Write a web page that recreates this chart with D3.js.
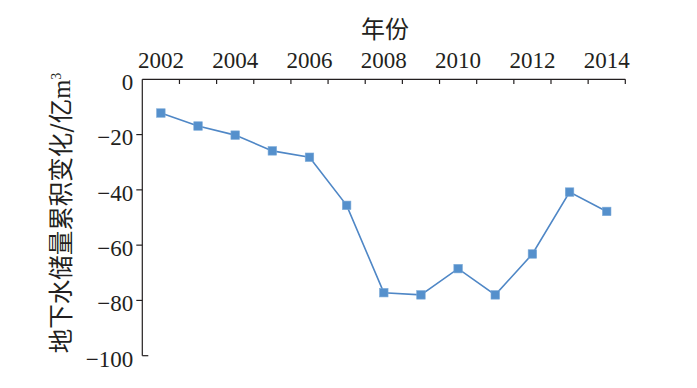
<!DOCTYPE html>
<html><head><meta charset="utf-8">
<script src="https://cdn.jsdelivr.net/npm/d3@7"></script>
<style>
body{margin:0;background:#fff;}
svg{display:block;}
.serif{font-family:"Liberation Serif","Times New Roman",serif;}
.cjk{font-family:"Noto Sans CJK SC","Noto Sans CJK JP",sans-serif;}
</style></head>
<body><svg id="c" width="697" height="388"></svg>
<script>
const years = [2002,2003,2004,2005,2006,2007,2008,2009,2010,2011,2012,2013,2014];
const values = [-12.2,-16.9,-20.2,-25.9,-28.2,-45.6,-77.2,-78.0,-68.5,-78.0,-63.2,-40.8,-47.8];
const xTickLabels = [2002,2004,2006,2008,2010,2012,2014];
const yTicks = [0,-20,-40,-60,-80,-100];
const xTitle = "年份";
const yTitle = "地下水储量累积变化/亿";

(function(){
const svg = d3.select("#c");
const pl = 142.3, pr = 625.3, pt = 79.3, pb = 355.7;
const axisColor = "#231f20";

const x = d3.scaleBand().domain(years).range([pl, pr]).padding(0);
const y = d3.scaleLinear().domain([0, -100]).range([pt, pb]);

// top axis labels
const gx = svg.append("g").attr("transform", `translate(0,${pt})`)
  .call(d3.axisTop(x).tickValues(xTickLabels).tickSize(0).tickPadding(11.3).tickFormat(d3.format("d")));
gx.attr("font-family", null).attr("font-size", null);
gx.select(".domain").remove();
gx.selectAll("text").attr("class", "serif").style("font-size", "23px").attr("fill", axisColor);

// top axis line and ticks at band boundaries
svg.append("line").attr("x1", pl).attr("x2", pr).attr("y1", pt).attr("y2", pt)
  .attr("stroke", axisColor).attr("stroke-width", 1.2);
const bounds = years.map(d => x(d)).concat([x(years[years.length-1]) + x.bandwidth()]).slice(1);
svg.append("g").selectAll("line").data(bounds).join("line")
  .attr("x1", d => d).attr("x2", d => d).attr("y1", pt).attr("y2", pt + 4.7)
  .attr("stroke", axisColor).attr("stroke-width", 1.2);

// left axis
const gy = svg.append("g").attr("transform", `translate(${pl},0)`)
  .call(d3.axisLeft(y).tickValues(yTicks).tickSize(0).tickPadding(9)
    .tickFormat(d => d < 0 ? "\u2212" + Math.abs(d) : String(d)));
gy.attr("font-family", null).attr("font-size", null);
gy.select(".domain").remove();
gy.selectAll("text").attr("class", "serif").style("font-size", "23px").attr("fill", axisColor)
  .attr("dy", "0.45em");
svg.append("line").attr("x1", pl).attr("x2", pl).attr("y1", pt).attr("y2", pb)
  .attr("stroke", axisColor).attr("stroke-width", 1.2);
svg.append("g").selectAll("line").data(yTicks.filter(d => d !== 0 && d !== -100)).join("line")
  .attr("x1", pl - 6).attr("x2", pl).attr("y1", d => y(d)).attr("y2", d => y(d))
  .attr("stroke", axisColor).attr("stroke-width", 1.2);
svg.append("line").attr("x1", pl).attr("x2", pl + 6).attr("y1", y(-100)).attr("y2", y(-100))
  .attr("stroke", axisColor).attr("stroke-width", 1.2);

// titles
svg.append("text").attr("x", 385).attr("y", 38).attr("text-anchor", "middle")
  .attr("class", "cjk").style("font-size", "24px").attr("fill", axisColor).text(xTitle);
const yt = svg.append("text").attr("transform", "translate(70,213) rotate(-90)")
  .attr("text-anchor", "middle").attr("class", "cjk").style("font-size", "24.5px").attr("fill", axisColor);
yt.append("tspan").text(yTitle);
yt.append("tspan").attr("class", "serif").text("m");
yt.append("tspan").attr("class", "serif").style("font-size", "14px").attr("dy", -9).text("3");

// line & markers
const cx = d => x(d) + x.bandwidth() / 2;
const line = d3.line().x((d, i) => cx(years[i])).y(d => y(d));
svg.append("path").datum(values).attr("d", line).attr("fill", "none")
  .attr("stroke", "#4f87c6").attr("stroke-width", 1.6);
const ms = 8.5;
svg.append("g").selectAll("rect").data(values).join("rect")
  .attr("x", (d, i) => cx(years[i]) - ms / 2).attr("y", d => y(d) - ms / 2)
  .attr("width", ms).attr("height", ms)
  .attr("fill", "#5590cc").attr("stroke", "#7aa9d8").attr("stroke-width", 0.6);
})();
</script></body></html>
